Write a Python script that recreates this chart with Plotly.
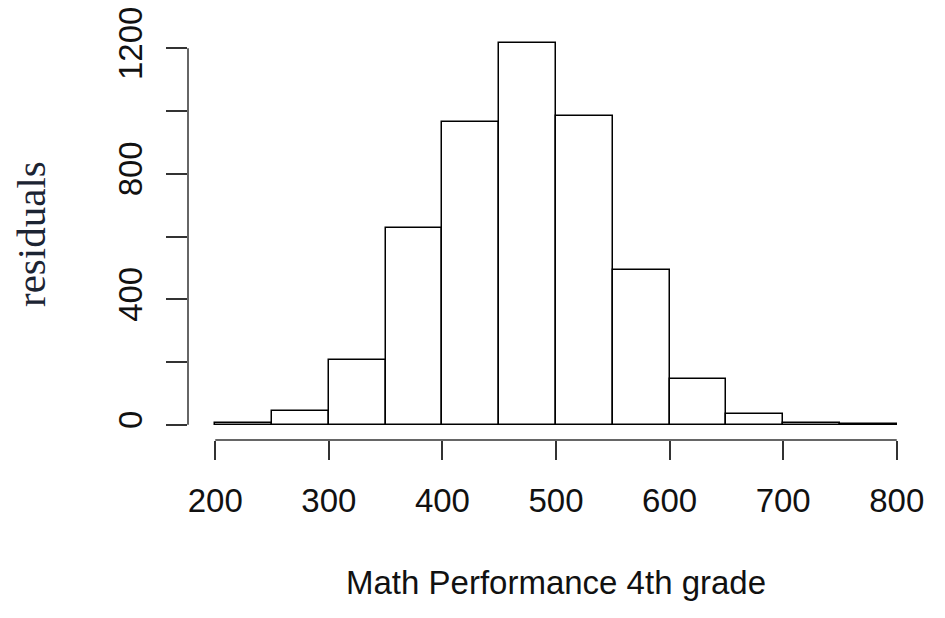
import plotly.graph_objects as go

# histogram bins (width 50) and counts
bin_left = [200, 250, 300, 350, 400, 450, 500, 550, 600, 650, 700, 750]
counts = [5, 43, 205, 626, 966, 1216, 984, 492, 145, 35, 6, 2]
bin_width = 50

x_ticks = [200, 300, 400, 500, 600, 700, 800]
y_ticks = [0, 200, 400, 600, 800, 1000, 1200]
y_ticktext = ['0', '', '400', '', '800', '', '1200']

x_title = 'Math Performance 4th grade'
y_title = 'residuals'

centers = [b + bin_width / 2 for b in bin_left]
ymax = max(counts)
xlo, xhi = bin_left[0], bin_left[-1] + bin_width
pad_x = 0.04 * (xhi - xlo)

fig = go.Figure(go.Bar(
    x=centers, y=counts, width=bin_width,
    marker=dict(color='white', line=dict(color='black', width=1.5)),
))

font = dict(family='Liberation Sans, Arial, sans-serif', size=33, color='#111')

# the page body adds an 8px offset, so margins are set 8px smaller
fig.update_layout(
    width=945, height=618,
    margin=dict(l=180, r=29, t=20, b=186),
    plot_bgcolor='white', paper_bgcolor='white',
    showlegend=False, bargap=0,
    xaxis=dict(range=[xlo - pad_x, xhi + pad_x], tickvals=x_ticks,
               ticks='outside', ticklen=19, tickwidth=1.5, tickcolor='#333',
               showline=False, showgrid=False, zeroline=False, automargin=False,
               tickfont=font, ticklabelstandoff=12, ticklabeloverflow='allow'),
    yaxis=dict(range=[-0.04 * ymax, 1.04 * ymax], tickvals=y_ticks,
               ticktext=y_ticktext, tickangle=-90,
               ticks='outside', ticklen=21, tickwidth=1.5, tickcolor='#333',
               showline=False, showgrid=False, zeroline=False, automargin=False,
               tickfont=font, ticklabelstandoff=11, ticklabeloverflow='allow'),
    annotations=[
        dict(text=x_title, xref='paper', yref='paper', x=0.5, y=0,
             yshift=-142, xanchor='center', yanchor='middle',
             showarrow=False, font=font),
        dict(text=y_title, xref='paper', yref='paper', x=0, y=0.5,
             xshift=-157, xanchor='center', yanchor='middle', textangle=-90,
             showarrow=False,
             font=dict(family='Liberation Serif, Times New Roman, serif',
                       size=41, color='#1c2433')),
    ],
    # R-style axis lines that only span the first to last tick
    shapes=[
        dict(type='line', xref='x', yref='paper', x0=x_ticks[0], x1=x_ticks[-1],
             y0=0, y1=0, line=dict(color='#333', width=1.5)),
        dict(type='line', xref='paper', yref='y', x0=0, x1=0,
             y0=y_ticks[0], y1=y_ticks[-1], line=dict(color='#333', width=1.5)),
    ],
)

fig.write_html('out.html')
